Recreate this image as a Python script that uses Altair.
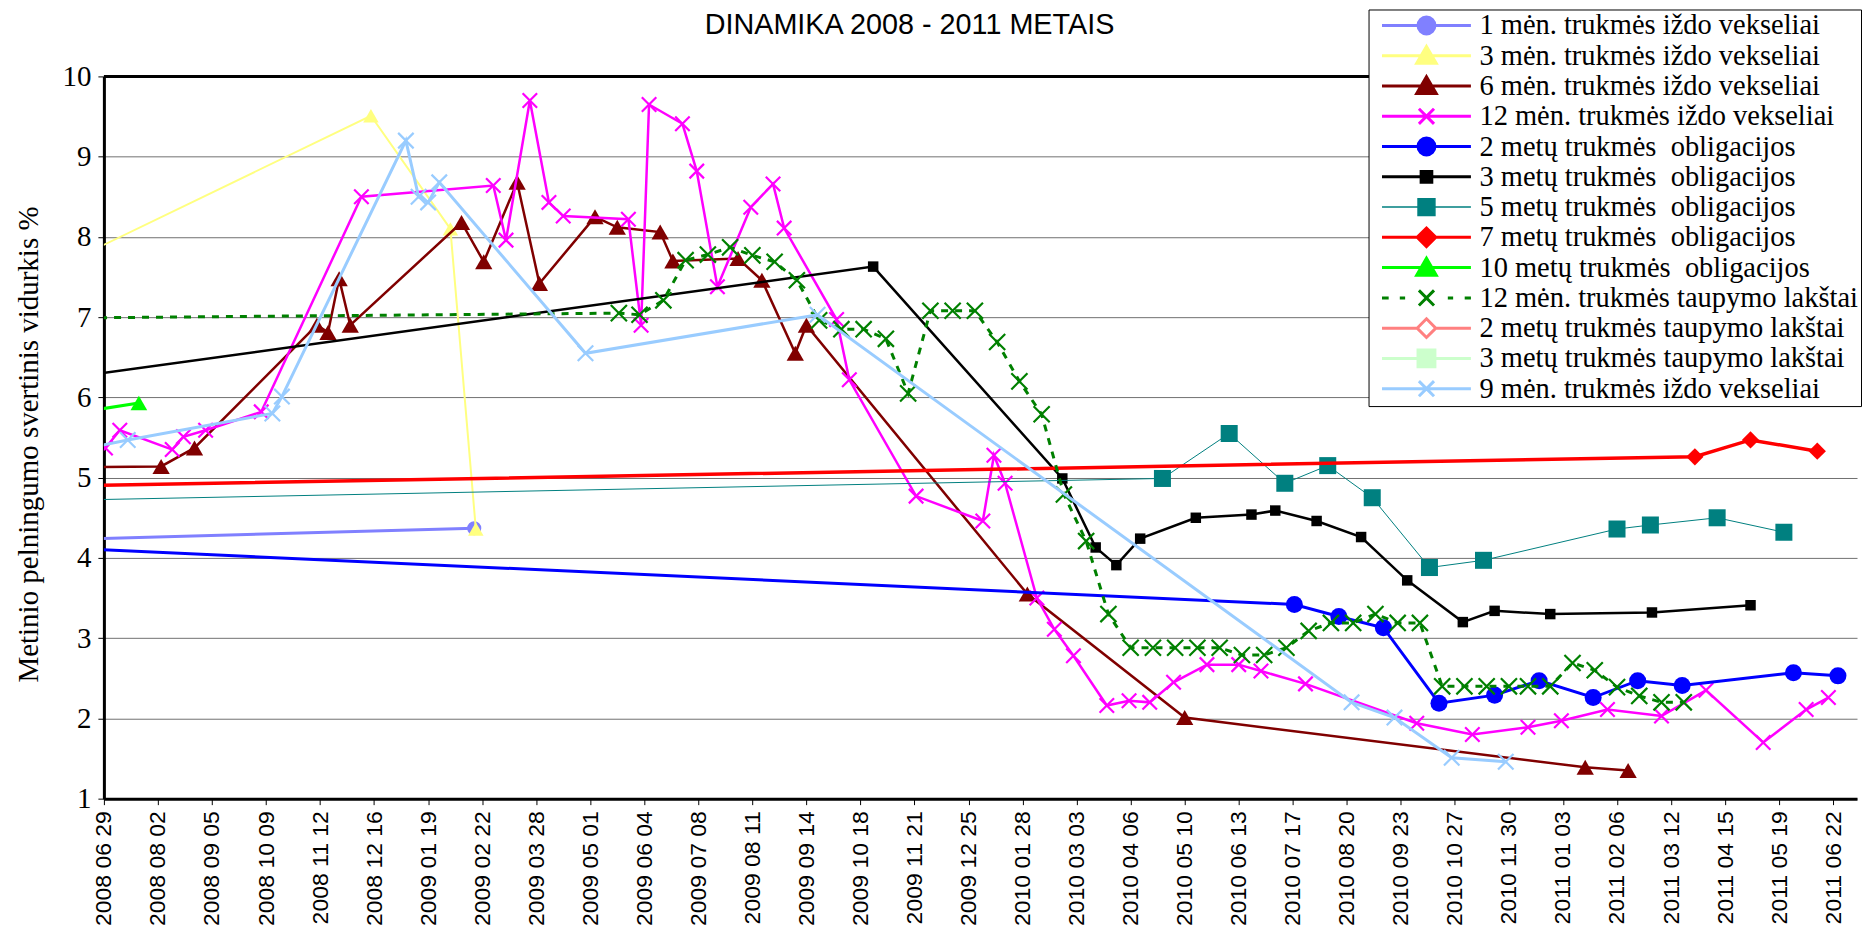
import altair as alt
import pandas as pd

# ---------------- data ----------------
NB = "\u00a0"
SERIES = [
    "1 mėn. trukmės iždo vekseliai",
    "3 mėn. trukmės iždo vekseliai",
    "6 mėn. trukmės iždo vekseliai",
    "12 mėn. trukmės iždo vekseliai",
    "2 metų trukmės" + NB + " obligacijos",
    "3 metų trukmės" + NB + " obligacijos",
    "5 metų trukmės" + NB + " obligacijos",
    "7 metų trukmės" + NB + " obligacijos",
    "10 metų trukmės" + NB + " obligacijos",
    "12 mėn. trukmės taupymo lakštai",
    "2 metų trukmės taupymo lakštai",
    "3 metų trukmės taupymo lakštai",
    "9 mėn. trukmės iždo vekseliai",
]

TICK_DATES = ["2008-06-29", "2008-08-02", "2008-09-05", "2008-10-09", "2008-11-12", "2008-12-16",
              "2009-01-19", "2009-02-22", "2009-03-28", "2009-05-01", "2009-06-04", "2009-07-08",
              "2009-08-11", "2009-09-14", "2009-10-18", "2009-11-21", "2009-12-25", "2010-01-28",
              "2010-03-03", "2010-04-06", "2010-05-10", "2010-06-13", "2010-07-17", "2010-08-20",
              "2010-09-23", "2010-10-27", "2010-11-30", "2011-01-03", "2011-02-06", "2011-03-12",
              "2011-04-15", "2011-05-19", "2011-06-22"]
X_START = "2008-06-29"
X_END = "2011-07-07"

dates_1m = ["2008-06-09", "2009-02-17"]
vals_1m = [4.23, 4.37]

dates_3m = ["2008-06-09", "2008-12-14", "2009-02-02", "2009-02-18"]
vals_3m = [7.71, 9.51, 8.10, 4.36]

dates_6m = ["2008-06-09", "2008-08-04", "2008-08-25", "2008-11-10", "2008-11-17", "2008-11-24",
            "2008-12-01", "2009-02-09", "2009-02-23", "2009-03-16", "2009-03-30", "2009-05-04",
            "2009-05-18", "2009-06-14", "2009-06-22", "2009-08-02", "2009-08-17", "2009-09-07",
            "2009-09-14", "2010-01-31", "2010-05-10", "2011-01-17", "2011-02-13"]
vals_6m = [5.13, 5.14, 5.37, 6.90, 6.81, 7.48, 6.90, 8.18, 7.69, 8.68, 7.42, 8.25, 8.12, 8.06,
           7.70, 7.73, 7.46, 6.55, 6.90, 3.55, 2.01, 1.39, 1.35]

dates_12m = ["2008-06-30", "2008-07-09", "2008-08-11", "2008-08-18", "2008-09-01", "2008-10-06",
             "2008-12-08", "2009-03-01", "2009-03-09", "2009-03-24", "2009-04-05", "2009-04-14",
             "2009-05-25", "2009-06-02", "2009-06-07", "2009-06-28", "2009-07-07", "2009-07-20",
             "2009-08-10", "2009-08-24", "2009-08-31", "2009-10-03", "2009-10-11", "2009-11-22",
             "2010-01-03", "2010-01-10", "2010-01-17", "2010-02-06", "2010-02-17", "2010-03-01",
             "2010-03-22", "2010-04-05", "2010-04-18", "2010-05-03", "2010-05-24", "2010-06-13",
             "2010-06-27", "2010-07-25", "2010-10-03", "2010-11-07", "2010-12-12", "2011-01-02",
             "2011-01-31", "2011-03-06", "2011-04-03", "2011-05-09", "2011-06-05", "2011-06-19"]
vals_12m = [5.37, 5.59, 5.35, 5.51, 5.59, 5.82, 8.50, 8.64, 7.96, 9.70, 8.43, 8.26, 8.22, 6.90,
            9.65, 9.41, 8.82, 7.38, 8.37, 8.66, 8.11, 6.97, 6.22, 4.77, 4.46, 5.28, 4.93, 3.50,
            3.11, 2.78, 2.16, 2.22, 2.20, 2.45, 2.67, 2.67, 2.59, 2.43, 1.94, 1.80, 1.89, 1.97,
            2.11, 2.03, 2.35, 1.70, 2.11, 2.26]

dates_2y = ["2008-06-09", "2010-07-18", "2010-08-15", "2010-09-12", "2010-10-17", "2010-11-21",
            "2010-12-19", "2011-01-22", "2011-02-19", "2011-03-19", "2011-05-28", "2011-06-25"]
vals_2y = [4.12, 3.42, 3.27, 3.13, 2.19, 2.29, 2.47, 2.26, 2.47, 2.41, 2.57, 2.53]

dates_3y = ["2008-06-09", "2009-10-26", "2010-02-22", "2010-03-15", "2010-03-28", "2010-04-12",
            "2010-05-17", "2010-06-21", "2010-07-06", "2010-08-01", "2010-08-29", "2010-09-27",
            "2010-11-01", "2010-11-21", "2010-12-26", "2011-02-28", "2011-05-01"]
vals_3y = [6.25, 7.63, 4.99, 4.13, 3.91, 4.24, 4.50, 4.54, 4.59, 4.46, 4.26, 3.72, 3.20, 3.34,
           3.30, 3.32, 3.41]

dates_5y = ["2008-06-09", "2010-04-26", "2010-06-07", "2010-07-12", "2010-08-08", "2010-09-05",
            "2010-10-11", "2010-11-14", "2011-02-06", "2011-02-27", "2011-04-10", "2011-05-22"]
vals_5y = [4.72, 4.99, 5.55, 4.93, 5.15, 4.75, 3.88, 3.97, 4.36, 4.41, 4.50, 4.32]

dates_7y = ["2008-06-09", "2011-03-27", "2011-05-01", "2011-06-12"]
vals_7y = [4.90, 5.26, 5.47, 5.33]

dates_10y = ["2008-06-09", "2008-07-21"]
vals_10y = [5.80, 5.93]

dates_sav = ["2008-06-09", "2009-05-19", "2009-06-01", "2009-06-16", "2009-06-30", "2009-07-14",
             "2009-07-28", "2009-08-11", "2009-08-25", "2009-09-08", "2009-09-22", "2009-10-06",
             "2009-10-20", "2009-11-03", "2009-11-17", "2009-12-01", "2009-12-15", "2009-12-29",
             "2010-01-12", "2010-01-26", "2010-02-09", "2010-02-23", "2010-03-09", "2010-03-23",
             "2010-04-06", "2010-04-20", "2010-05-04", "2010-05-18", "2010-06-01", "2010-06-15",
             "2010-06-29", "2010-07-13", "2010-07-27", "2010-08-10", "2010-08-24", "2010-09-07",
             "2010-09-21", "2010-10-05", "2010-10-19", "2010-11-02", "2010-11-16", "2010-11-30",
             "2010-12-12", "2010-12-26", "2011-01-09", "2011-01-23", "2011-02-06", "2011-02-20",
             "2011-03-06", "2011-03-20"]
vals_sav = [6.99, 7.05, 7.03, 7.21, 7.71, 7.78, 7.87, 7.77, 7.69, 7.46, 6.96, 6.85, 6.85, 6.73,
            6.05, 7.08, 7.08, 7.08, 6.69, 6.20, 5.79, 4.79, 4.21, 3.30, 2.88, 2.88, 2.88, 2.88,
            2.88, 2.79, 2.79, 2.88, 3.09, 3.19, 3.19, 3.30, 3.19, 3.19, 2.40, 2.40, 2.40, 2.40,
            2.40, 2.40, 2.69, 2.60, 2.39, 2.28, 2.20, 2.20]

dates_2y_sav = []
vals_2y_sav = []
dates_3y_sav = []
vals_3y_sav = []

dates_9m = ["2008-06-09", "2008-07-14", "2008-10-13", "2008-10-19", "2009-01-05", "2009-01-13",
            "2009-01-19", "2009-01-26", "2009-04-28", "2009-09-21", "2010-08-23", "2010-09-19",
            "2010-10-25", "2010-11-28"]
vals_9m = [5.33, 5.47, 5.80, 6.01, 9.20, 8.50, 8.43, 8.68, 6.55, 7.03, 2.20, 2.01, 1.51, 1.46]

SERIES_DATA = [
    (dates_1m, vals_1m), (dates_3m, vals_3m), (dates_6m, vals_6m), (dates_12m, vals_12m),
    (dates_2y, vals_2y), (dates_3y, vals_3y), (dates_5y, vals_5y), (dates_7y, vals_7y),
    (dates_10y, vals_10y), (dates_sav, vals_sav), (dates_2y_sav, vals_2y_sav),
    (dates_3y_sav, vals_3y_sav), (dates_9m, vals_9m),
]

# ---------------- styles ----------------
COLORS = ["#8080FF", "#FFFF80", "#800000", "#FF00FF", "#0000FF", "#000000", "#008080",
          "#FF0000", "#00FF00", "#008000", "#FF8080", "#CCFFCC", "#99CCFF"]
LINE_W = [3, 2, 2.5, 2.5, 3, 2.5, 1, 3.5, 3, 3, 3, 3, 3]
DASH = [None] * 9 + [[7, 7]] + [None] * 3
XPATH = "M-1,-1L1,1M-1,1L1,-1"
MARK_SHAPE = ["circle", "triangle-up", "triangle-up", XPATH, "circle", "square", "square",
              "diamond", "triangle-up", XPATH, "diamond", "square", XPATH]
MARK_SIZE = [200, 240, 300, 210, 290, 110, 290, 300, 280, 260, 250, 250, 240]

m = 0.19
CIRC = f"M{m},0A{m},{m} 0 1,1 -{m},0A{m},{m} 0 1,1 {m},0Z"
TRI = "M0,-0.21L0.22,0.17L-0.22,0.17Z"
SQ = "M-0.19,-0.19L0.19,-0.19L0.19,0.19L-0.19,0.19Z"
SQS = "M-0.12,-0.12L0.12,-0.12L0.12,0.12L-0.12,0.12Z"
DIA = "M0,-0.21L0.21,0L0,0.21L-0.21,0Z"
XS = "M-0.17,-0.17L0.17,0.17M-0.17,0.17L0.17,-0.17"
FULL = "M-1,0L1,0"
LEG_PATHS = [FULL + CIRC, FULL + TRI, FULL + TRI, FULL + XS, FULL + CIRC, FULL + SQS, FULL + SQ,
             FULL + DIA, FULL + TRI,
             "M-1,0L-0.85,0M-0.6,0L-0.48,0M0.48,0L0.6,0M0.86,0L1,0" + XS,
             "M-1,0L-0.21,0M0.21,0L1,0" + DIA, FULL + SQ, FULL + XS]
LEG_FILL = list(COLORS)
LEG_FILL[10] = "#FFFFFF"
LEG_W = [3, 3, 3, 3, 3, 3, 1.5, 3, 3, 3, 3, 3, 3]


def ms(s):
    return int(pd.Timestamp(s, tz="UTC").timestamp() * 1000)


W, H = 1755, 723
xscale = alt.Scale(type="utc", domain=[ms(X_START), ms(X_END)])
yscale = alt.Scale(domain=[1, 10], nice=False, zero=False)
xaxis = alt.Axis(values=[ms(t) for t in TICK_DATES], format="%Y %m %d", labelAngle=270,
                 labelFont="Liberation Sans", labelFontSize=23, labelColor="black",
                 tickSize=6, tickColor="black", tickWidth=1, domainColor="black", domainWidth=3,
                 grid=False, labelPadding=6, labelOverlap=False, labelFlush=False, title=None)
yaxis = alt.Axis(values=list(range(1, 11)), tickSize=6, tickColor="black", domainColor="black",
                 domainWidth=3, grid=True, gridColor="#707070", gridWidth=1,
                 labelFont="Liberation Serif", labelFontSize=29, labelColor="black",
                 labelPadding=7, title="Metinio pelningumo svertinis vidurkis %",
                 titleFont="Liberation Serif", titleFontSize=29, titleFontWeight="normal",
                 titleColor="black", titlePadding=18, titleY=368)

layers = []
for i, (ds, vs) in enumerate(SERIES_DATA):
    if not ds:
        continue
    df = pd.DataFrame({"date": ds, "v": vs})
    base = alt.Chart(df).encode(
        x=alt.X("date:T", scale=xscale, axis=xaxis),
        y=alt.Y("v:Q", scale=yscale, axis=yaxis),
    )
    lkw = dict(color=COLORS[i], strokeWidth=LINE_W[i], clip=True)
    if DASH[i]:
        lkw["strokeDash"] = DASH[i]
    layers.append(base.mark_line(**lkw))
    if MARK_SHAPE[i] == XPATH:
        pts = base.mark_point(shape=XPATH, size=MARK_SIZE[i], filled=False, stroke=COLORS[i],
                              strokeWidth=2.2, opacity=1, clip=True)
    else:
        pts = base.mark_point(shape=MARK_SHAPE[i], size=MARK_SIZE[i], filled=True,
                              color=COLORS[i], opacity=1, clip=True)
    layers.append(pts)

leg = alt.Legend(title=None, orient="none", legendX=1266, legendY=-67, symbolSize=7921,
                 clipHeight=28, rowPadding=1.3, labelFont="Liberation Serif", labelFontSize=28.5,
                 labelColor="black", labelLimit=700, strokeColor="black", fillColor="white",
                 padding=2, symbolOffset=10, labelOffset=7)
leg_df = pd.DataFrame({"series": SERIES})
legend_layer = alt.Chart(leg_df).transform_filter("false").mark_point(opacity=1, filled=False).encode(
    shape=alt.Shape("series:N", scale=alt.Scale(domain=SERIES, range=LEG_PATHS), legend=leg),
    stroke=alt.Stroke("series:N", scale=alt.Scale(domain=SERIES, range=COLORS), legend=leg),
    fill=alt.Fill("series:N", scale=alt.Scale(domain=SERIES, range=LEG_FILL), legend=leg),
    strokeWidth=alt.StrokeWidth("series:N", scale=alt.Scale(type="ordinal", domain=SERIES, range=LEG_W),
                                legend=leg),
)

top_rule = alt.Chart(pd.DataFrame({"v": [10]})).mark_rule(color="black", strokeWidth=3).encode(
    y=alt.Y("v:Q", scale=yscale, axis=yaxis))

chart = alt.layer(*layers, legend_layer, top_rule).properties(
    width=W, height=H,
    padding={"left": 7, "top": 0, "right": 0, "bottom": 0},
    title=alt.TitleParams("DINAMIKA 2008 - 2011 METAIS", font="Liberation Sans", fontSize=28.8,
                          fontWeight="normal", color="black", anchor="middle", dx=-71, offset=-31),
).configure_view(stroke=None)

chart.save("out.html", embed_options={"renderer": "svg", "actions": False})
